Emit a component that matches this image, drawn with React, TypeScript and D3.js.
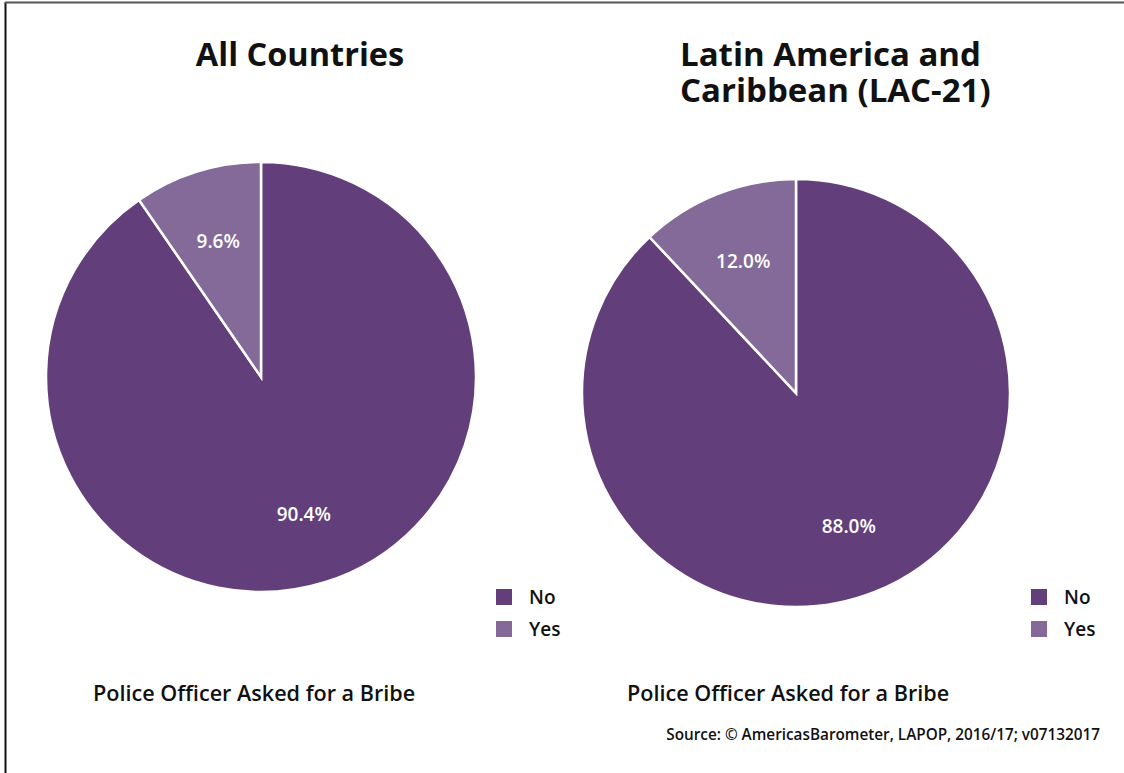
import React from "react";
import * as d3 from "d3";

const categories = ["No", "Yes"];
const allCountriesValues = [90.4, 9.6];
const lacValues = [88.0, 12.0];
const panelTitles = [["All Countries"], ["Latin America and", "Caribbean (LAC-21)"]];
const subtitle = "Police Officer Asked for a Bribe";
const source = "Source: \u00A9 AmericasBarometer, LAPOP, 2016/17; v07132017";
const colors = ["#623f7b", "#846a99"];

const FONT = "'Open Sans', 'Noto Sans', sans-serif";

type PanelProps = {
  values: number[];
  cx: number;
  cy: number;
  r: number;
  title: string[];
  titleX: number;
  titleAnchor: string;
  titleSize: number;
  legendX: number;
  subX: number;
};

function Panel({ values, cx, cy, r, title, titleX, titleAnchor, titleSize, legendX, subX }: PanelProps) {
  const pie = d3.pie<number>().sort(null).value((d) => d);
  const arcs = pie(values);
  const arc = d3.arc<d3.PieArcDatum<number>>().innerRadius(0).outerRadius(r);
  const labelArc = d3.arc<d3.PieArcDatum<number>>().innerRadius(r * 0.67).outerRadius(r * 0.67);
  const color = d3.scaleOrdinal<string, string>().domain(categories).range(colors);
  return (
    <g>
      {title.map((t, i) => (
        <text
          key={t}
          x={titleX}
          y={66 + i * 35.5}
          textAnchor={titleAnchor}
          fontFamily={FONT}
          fontWeight="bold"
          fontSize={titleSize}
          fill="#111"
        >
          {t}
        </text>
      ))}
      <g transform={`translate(${cx},${cy})`}>
        {arcs.map((a, i) => (
          <path key={i} d={arc(a) || ""} fill={color(categories[i])} stroke="#fff" strokeWidth={2.5} />
        ))}
        {arcs.map((a, i) => {
          const [x, y] = labelArc.centroid(a);
          return (
            <text
              key={"l" + i}
              x={x}
              y={y + (i === 1 ? 2 : 0)}
              dy="0.35em"
              textAnchor="middle"
              fontFamily={FONT}
              fontWeight="600"
              fontSize={19}
              fill="#fff"
            >
              {d3.format(".1f")(a.data)}%
            </text>
          );
        })}
      </g>
      {categories.map((c, i) => (
        <g key={c} transform={`translate(${legendX},${589 + i * 32})`}>
          <rect width={16} height={16} fill={color(c)} />
          <text x={33} y={8} dy="0.35em" fontFamily={FONT} fontWeight="600" fontSize={19} fill="#111">
            {c}
          </text>
        </g>
      ))}
      <text x={subX} y={693} dy="0.35em" fontFamily={FONT} fontWeight="600" fontSize={21.6} fill="#111">
        {subtitle}
      </text>
    </g>
  );
}

export default function App() {
  return (
    <svg
      width={1124}
      height={773}
      style={{ position: "absolute", left: 0, top: 0, background: "#fff" }}
    >
      <rect x={0} y={0} width={1124} height={773} fill="#fff" />
      <line x1={5.5} y1={2} x2={5.5} y2={773} stroke="#111" strokeWidth={2} />
      <line x1={5} y1={2.5} x2={1124} y2={2.5} stroke="#555" strokeWidth={2} />
      <Panel
        values={allCountriesValues}
        cx={261}
        cy={377}
        r={215}
        title={panelTitles[0]}
        titleX={300}
        titleAnchor="middle"
        titleSize={32.5}
        legendX={496}
        subX={93}
      />
      <Panel
        values={lacValues}
        cx={796}
        cy={393}
        r={214}
        title={panelTitles[1]}
        titleX={680}
        titleAnchor="start"
        titleSize={33}
        legendX={1031}
        subX={627}
      />
      <text x={1100} y={735} dy="0.35em" textAnchor="end" fontFamily={FONT} fontWeight="600" fontSize={15.3} fill="#111">
        {source}
      </text>
    </svg>
  );
}
